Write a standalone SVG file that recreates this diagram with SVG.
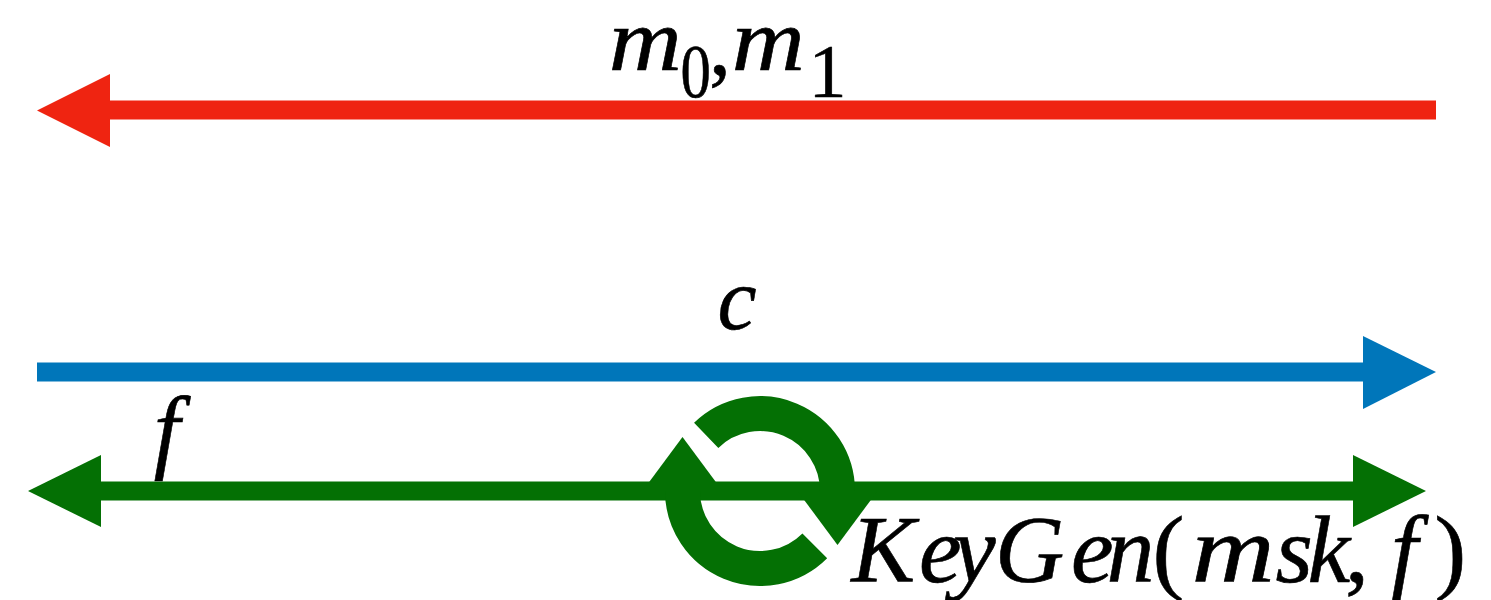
<svg xmlns="http://www.w3.org/2000/svg" width="1491" height="600" viewBox="0 0 1491 600">
<style>
text{font-family:"Liberation Serif","Times New Roman",serif;fill:#000;stroke:#000;stroke-width:0.6}
.i{font-style:italic}
.n{font-style:normal}
</style>
<rect width="1491" height="600" fill="#fff"/>
<g id="connectors">
<g id="msg-arrow">
<line x1="1436" y1="110" x2="108" y2="110" stroke="#EF2411" stroke-width="19"/>
<polygon points="37,110.5 110,74 110,147" fill="#EF2411"/>
</g>
<g id="c-arrow">
<line x1="37" y1="372" x2="1365" y2="372" stroke="#0076BA" stroke-width="19"/>
<polygon points="1436,372 1363,336 1363,409" fill="#0076BA"/>
</g>
<g id="f-arrow">
<line x1="99" y1="491" x2="1355" y2="491" stroke="#047004" stroke-width="19"/>
<polygon points="28,491 101,455 101,527" fill="#047004"/>
<polygon points="1426,491 1353,455 1353,527" fill="#047004"/>
</g>
</g>
<g id="keygen-cycle" fill="#047004">
<path d="M706.2,435.3 A77.5,77.5 0 0 1 837.5,491" fill="none" stroke="#047004" stroke-width="35"/>
<polygon points="797.5,491 877.5,491 837.5,545"/>
<path d="M814.8,545.8 A77.5,77.5 0 0 1 682.5,491" fill="none" stroke="#047004" stroke-width="35"/>
<polygon points="642.5,491 722.5,491 682.5,437"/>
</g>
<g id="label-m">
<text class="i" font-size="88" transform="translate(608.8,70) scale(1.15,1)">m</text>
<text class="n" font-size="76" transform="translate(680.5,97) scale(0.8,1)">0</text>
<text class="n" font-size="88" x="709" y="74">,</text>
<text class="i" font-size="88" transform="translate(731.8,70) scale(1.15,1)">m</text>
<text class="n" font-size="76" x="808.6" y="97">1</text>
</g>
<g id="label-c">
<text class="i" font-size="88" x="717.4" y="329">c</text>
</g>
<g id="label-f">
<text class="i" font-size="94" x="153.8" y="460.5">f</text>
</g>
<g id="label-keygen">
<text font-size="96" y="582"><tspan class="i" x="851.3">K</tspan><tspan class="i" x="919">e</tspan><tspan class="i" x="953">y</tspan><tspan class="i" x="995">G</tspan><tspan class="i" x="1071">e</tspan><tspan class="i" x="1106.5">n</tspan><tspan class="n" x="1152.4">(</tspan></text>
<text class="i" font-size="96" transform="translate(1191.6,582) scale(1.2,1)">m</text>
<text font-size="96" y="582"><tspan class="i" x="1275.5">s</tspan><tspan class="i" x="1307.5">k</tspan><tspan class="n" x="1345">,</tspan><tspan class="i" x="1391">f</tspan><tspan class="n" x="1434.2">)</tspan></text>
</g>
</svg>
